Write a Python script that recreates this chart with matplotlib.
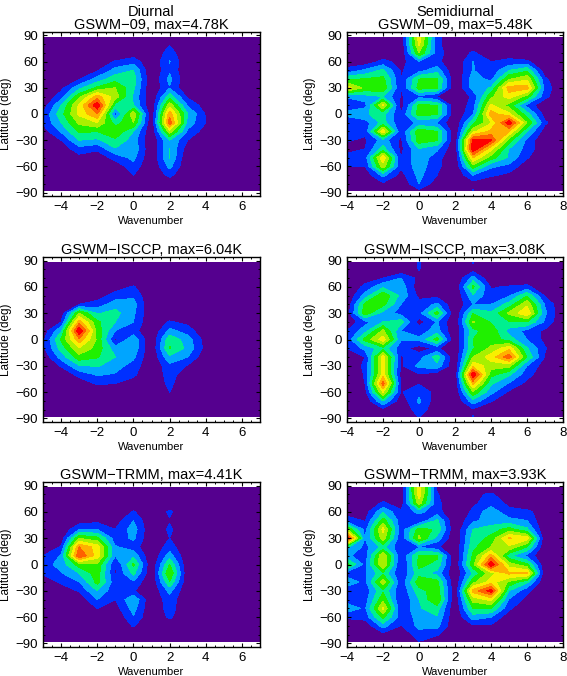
import numpy as np
import matplotlib
matplotlib.use('Agg')
import matplotlib.pyplot as plt
from matplotlib.colors import ListedColormap, BoundaryNorm
from matplotlib.ticker import MultipleLocator

# values are in tenths of each panel's maximum, one list per wavenumber,
# north to south on the latitudes below
lats = [87.5, 80, 70, 60, 50, 40, 30, 20, 10, 0, -10, -20, -30, -40, -50, -60, -70, -80, -87.5]
k_diurnal = [-5, -4, -3, -2, -1, 0, 1, 2, 3, 4, 5, 6, 7]
k_semi = [-4, -3, -2, -1, 0, 1, 2, 3, 4, 5, 6, 7, 8]
zero = [0] * 19

d_09 = [
    [0, 0, 0, 0, 0, 0, 0, 0, 0.4, 1.1, 1.1, 0.5, 0, 0, 0, 0, 0, 0, 0],
    [0, 0, 0, 0, 0, 0.1, 0.7, 1.5, 3.0, 3.6, 3.0, 2.1, 1.0, 0.3, 0, 0, 0, 0, 0],
    [0, 0, 0, 0, 0.2, 0.9, 2.7, 4.7, 6.2, 6.2, 5.2, 4.2, 3.0, 1.6, 0.6, 0, 0, 0, 0],
    [0, 0, 0, 0.3, 0.9, 2.4, 4.2, 7.5, 9.8, 8.0, 6.0, 4.0, 2.8, 1.2, 0.3, 0, 0, 0, 0],
    [0, 0, 0, 1.1, 2.4, 3.6, 5.0, 5.5, 3.6, 1.4, 3.5, 4.8, 3.8, 2.9, 1.4, 0.3, 0, 0, 0],
    [0, 0, 0.3, 1.6, 3.0, 3.5, 3.2, 2.8, 3.0, 5.8, 5.0, 3.0, 2.5, 2.8, 2.3, 1.6, 1.0, 0.2, 0],
    zero,
    [0, 0.9, 1.5, 2.05, 1.8, 2.3, 1.9, 3.6, 5.6, 7.6, 8.6, 5.5, 3.0, 3.0, 3.05, 2.3, 1.3, 0.1, 0],
    [0, 0, 0, 0, 0, 0, 0, 0.8, 1.9, 3.0, 2.6, 1.8, 1.0, 0.4, 0, 0, 0, 0, 0],
    [0, 0, 0, 0, 0, 0, 0, 0, 0.4, 0.9, 1.0, 0.5, 0, 0, 0, 0, 0, 0, 0],
    zero, zero, zero,
]
s_09 = [
    [0, 0, 0, 0.4, 1.3, 3.8, 6.5, 2.1, 1.3, 2.4, 1.0, 2.05, 1.1, 0.7, 1.3, 1.05, 0, 0, 0],
    [0, 0, 0, 0.3, 2.2, 4.1, 4.7, 2.6, 1.6, 2.9, 1.5, 1.3, 0.8, 1.0, 1.5, 1.0, 0.3, 0, 0],
    [0, 0, 0.3, 1.3, 3.2, 4.3, 4.7, 3.0, 6.2, 3.3, 3.4, 6.6, 2.5, 3.4, 6.8, 5.5, 2.3, 0.8, 0],
    [0, 0, 0, 0.6, 0.9, 1.0, 1.0, 0.9, 0.4, 1.1, 1.1, 1.1, 0.8, 0.7, 1.0, 1.2, 0.6, 0.1, 0],
    [6.5, 6.2, 5.0, 1.9, 1.6, 4.0, 4.4, 1.7, 4.2, 4.5, 2.3, 4.6, 4.6, 2.9, 2.7, 2.5, 2.3, 2.0, 0.8],
    [1.3, 1.3, 1.6, 1.3, 2.6, 4.2, 4.1, 1.0, 4.0, 4.1, 1.9, 4.0, 4.1, 2.2, 1.4, 1.3, 1.0, 0.4, 0],
    zero,
    [0, 0, 1.2, 2.05, 2.05, 2.5, 2.4, 1.2, 1.5, 1.9, 3.7, 5.7, 9.3, 9.9, 7.0, 4.5, 2.0, 0.5, 1.05],
    [0, 0, 0, 1.0, 1.3, 1.7, 3.1, 4.7, 6.2, 7.5, 5.9, 7.3, 9.2, 6.3, 4.5, 2.2, 1.2, 0, 0],
    [0, 0, 0.4, 1.3, 3.0, 4.9, 7.5, 6.5, 4.6, 6.2, 9.7, 7.0, 4.5, 3.0, 2.8, 1.7, 0.7, 0, 0],
    [0, 0, 0, 1.2, 3.8, 5.8, 7.4, 4.5, 1.6, 3.4, 5.0, 3.0, 1.7, 1.6, 1.1, 0.3, 0, 0, 0],
    [0, 0, 0, 0, 0.3, 1.2, 1.6, 1.3, 0.2, 0.5, 1.2, 0.4, 0.1, 0.2, 0, 0, 0, 0, 0],
    zero,
]
d_isccp = [
    [0, 0, 0, 0, 0, 0, 0, 0, 0.3, 0.7, 0.7, 0.2, 0, 0, 0, 0, 0, 0, 0],
    [0, 0, 0, 0, 0, 0, 0.3, 1.0, 2.8, 4.1, 3.4, 2.4, 1.1, 0, 0, 0, 0, 0, 0],
    [0, 0, 0, 0, 0.1, 1.0, 5.0, 7.5, 10, 7.7, 5.9, 4.6, 2.9, 1.4, 0.2, 0, 0, 0, 0],
    [0, 0, 0, 0, 0.5, 1.4, 2.9, 4.2, 4.6, 4.8, 4.6, 4.1, 3.1, 2.1, 1.2, 0, 0, 0, 0],
    [0, 0, 0, 0.5, 1.4, 2.6, 3.3, 3.0, 2.0, 0.8, 2.4, 3.0, 2.4, 1.9, 1.0, 0.2, 0, 0, 0],
    [0, 0, 0.2, 1.1, 1.8, 2.4, 2.2, 2.0, 1.4, 2.7, 2.7, 2.2, 1.6, 1.2, 0.6, 0, 0, 0, 0],
    zero,
    [0, 0, 0, 0, 0, 0, 0.2, 1.1, 2.3, 3.7, 4.1, 2.8, 1.7, 1.5, 1.3, 1.0, 0, 0, 0],
    [0, 0, 0, 0, 0, 0, 0, 0.7, 1.5, 2.5, 2.7, 2.0, 0.9, 0.2, 0, 0, 0, 0, 0],
    [0, 0, 0, 0, 0, 0, 0, 0, 0.1, 0.5, 0.6, 0.2, 0, 0, 0, 0, 0, 0, 0],
    zero, zero, zero,
]
s_isccp = [
    [0, 0, 0, 0, 0, 0.2, 0.4, 0.3, 1.0, 1.3, 1.0, 0.9, 0.2, 0, 0, 0, 0, 0, 0],
    [0, 0, 0.4, 1.3, 2.4, 4.3, 4.6, 1.6, 2.6, 4.3, 2.3, 1.0, 1.2, 1.1, 1.0, 0.6, 0.1, 0, 0],
    [0, 0, 1.0, 2.8, 4.8, 4.3, 2.6, 3.0, 5.2, 6.5, 3.6, 6.5, 6.3, 6.5, 8.5, 6.0, 3.0, 0.7, 0],
    [0, 0, 2.0, 2.6, 2.7, 2.0, 1.6, 3.5, 2.0, 2.1, 1.4, 0.9, 0.8, 0.6, 0.8, 0.9, 0.3, 0, 0],
    [1.1, 1.05, 0.7, 0.3, 0.7, 1.4, 1.6, 0.5, 1.5, 2.2, 0.5, 1.5, 2.3, 0.9, 0.9, 1.7, 2.2, 1.6, 1.1],
    [0, 0, 0, 0.2, 0.7, 2.2, 4.4, 2.1, 2.4, 4.4, 1.2, 3.5, 2.7, 0.3, 0.4, 0.6, 0.3, 0.2, 0],
    zero,
    [1.05, 0.5, 2.4, 4.2, 2.8, 2.0, 3.9, 5.1, 3.6, 4.0, 3.9, 5.0, 6.7, 9.9, 7.3, 4.8, 2.6, 0.8, 1.02],
    [0, 0, 0, 0.9, 1.3, 2.0, 3.2, 3.9, 4.7, 4.6, 5.2, 6.5, 5.5, 4.3, 3.2, 2.3, 1.1, 0, 0],
    [0, 0, 0, 1.1, 1.9, 3.4, 5.2, 3.9, 2.6, 3.5, 6.7, 8.6, 5.3, 3.2, 1.9, 0.8, 0, 0, 0],
    [0, 0, 0, 1.3, 3.9, 5.8, 6.8, 4.0, 1.7, 2.0, 3.1, 3.9, 2.0, 1.4, 0.7, 0.2, 0, 0, 0],
    [0, 0, 0, 0, 0.9, 1.9, 2.2, 1.8, 0.8, 0.7, 1.1, 0.9, 0.4, 0.2, 0, 0, 0, 0, 0],
    zero,
]
d_trmm = [
    [0, 0, 0, 0, 0, 0, 0, 0, 1.0, 1.5, 1.2, 0, 0, 0, 0, 0, 0, 0, 0],
    [0, 0, 0, 0, 0, 0, 0.3, 1.1, 2.1, 2.4, 1.9, 1.2, 0.3, 0, 0, 0, 0, 0, 0],
    [0, 0, 0, 0, 0.4, 2.0, 4.9, 8.0, 9.0, 4.5, 3.0, 2.0, 1.1, 0.3, 0, 0, 0, 0, 0],
    [0, 0, 0, 0, 0.7, 2.0, 4.3, 6.5, 6.5, 4.8, 4.5, 4.3, 3.0, 2.0, 1.0, 0, 0, 0, 0],
    [0, 0, 0, 0, 0.5, 1.0, 1.4, 2.1, 2.0, 0.9, 0.9, 1.3, 1.2, 1.0, 0.5, 0, 0, 0, 0],
    [0, 0, 0.3, 1.1, 2.0, 2.5, 2.2, 1.5, 2.7, 4.2, 3.3, 1.8, 1.1, 2.9, 2.4, 1.9, 1.1, 0, 0],
    zero,
    [0, 0, 0.2, 1.2, 0.9, 1.2, 1.0, 1.5, 2.5, 4.0, 5.0, 3.9, 2.3, 1.6, 1.5, 1.2, 0.2, 0, 0],
    zero, zero, zero, zero, zero,
]
s_trmm = [
    [0, 0, 0, 0.4, 1.6, 5.0, 9.7, 3.2, 2.2, 4.3, 1.5, 2.6, 1.3, 1.5, 2.6, 1.2, 0, 0, 0],
    [0, 0, 0, 0.5, 0.9, 1.6, 2.0, 1.7, 1.4, 1.7, 1.8, 1.7, 1.3, 1.5, 1.8, 1.4, 0.2, 0, 0],
    [0, 0, 1.2, 2.8, 4.5, 6.3, 5.5, 3.3, 6.0, 6.0, 3.7, 5.6, 3.8, 4.7, 6.2, 4.3, 2.4, 0.6, 0],
    [0, 0, 0.3, 1.2, 1.4, 1.3, 1.2, 1.1, 1.0, 0.8, 1.0, 1.2, 1.1, 0.9, 1.1, 1.4, 0.9, 0.2, 0],
    [6.6, 6.5, 5.5, 2.3, 1.0, 4.5, 5.2, 1.9, 4.1, 4.3, 3.6, 4.6, 3.6, 3.0, 2.9, 2.3, 2.3, 1.5, 1.0],
    [0.9, 1.1, 1.3, 1.4, 3.2, 3.8, 2.6, 1.2, 4.2, 3.7, 2.6, 4.4, 4.6, 5.0, 3.5, 2.9, 2.3, 1.1, 0.3],
    zero,
    [0, 0.7, 0.8, 1.2, 1.8, 3.0, 3.4, 3.7, 4.2, 4.7, 3.1, 4.7, 7.4, 5.4, 4.0, 2.5, 0.8, 0, 0],
    [0, 1.2, 1.5, 2.7, 2.4, 3.5, 4.3, 5.0, 7.4, 9.8, 5.6, 6.5, 9.5, 6.3, 4.0, 2.0, 0.8, 0, 0],
    [0, 0, 0.8, 1.2, 2.4, 4.4, 7.1, 5.8, 3.3, 5.5, 7.2, 4.8, 3.0, 1.9, 1.2, 0.3, 0, 0, 0],
    [0, 0, 0, 1.3, 2.0, 3.2, 6.5, 4.0, 1.7, 4.2, 7.2, 3.2, 1.3, 0.6, 0.2, 0, 0, 0, 0],
    [0, 0, 0, 0.3, 0, 0, 0, 0, 0, 0, 0, 0, 0, 0, 0, 0, 0, 0, 0],
    zero,
]

titles_left = ['Diurnal\nGSWM\u221209, max=4.78K', 'GSWM\u2212ISCCP, max=6.04K', 'GSWM\u2212TRMM, max=4.41K']
titles_right = ['Semidiurnal\nGSWM\u221209, max=5.48K', 'GSWM\u2212ISCCP, max=3.08K', 'GSWM\u2212TRMM, max=3.93K']

band_colors = ['#55008f', '#0030ff', '#00a5ff', '#00f090', '#20f000',
               '#a8f000', '#f8f000', '#ffb000', '#ff6000', '#ff0000']
levels = [-1, 1, 2, 3, 4, 5, 6, 7, 8, 9, 11]
cmap = ListedColormap(band_colors)
norm = BoundaryNorm(levels, cmap.N)

W, H = 567, 676
plt.rcParams['font.family'] = ['Liberation Sans', 'DejaVu Sans']
fig = plt.figure(figsize=(W / 100, H / 100), dpi=100)


def panel(x0, x1, y0, y1, ks, data, title, xlim, xticks):
    ax = fig.add_axes([x0 / W, 1 - y1 / H, (x1 - x0) / W, (y1 - y0) / H])
    z = np.array(data).T
    ax.contourf(ks, lats, z, levels=levels, cmap=cmap, norm=norm)
    ax.set_xlim(*xlim)
    ax.set_ylim(-94, 94)
    ax.set_xticks(xticks)
    ax.set_yticks([-90, -60, -30, 0, 30, 60, 90])
    ax.set_yticklabels(['\u221290', '\u221260', '\u221230', '0', '30', '60', '90'])
    ax.set_xticklabels([str(t).replace('-', '\u2212') for t in xticks])
    ax.xaxis.set_minor_locator(MultipleLocator(0.5))
    ax.yaxis.set_minor_locator(MultipleLocator(10))
    ax.tick_params(which='major', direction='in', top=True, right=True, length=2.7,
                   width=0.8, labelsize=9.5, pad=3.5)
    ax.tick_params(which='minor', direction='in', top=True, right=True, length=1.5, width=0.7)
    for s in ax.spines.values():
        s.set_linewidth(1.0)
    ax.set_xlabel('Wavenumber', fontsize=8)
    ax.set_ylabel('Latitude (deg)', fontsize=8.5)
    ax.xaxis.set_label_coords(0.5, -0.122)
    ax.yaxis.set_label_coords(-0.143, 0.5)
    ax.set_title(title, fontsize=10.5, pad=2, linespacing=0.95)


rows = [(32, 196), (257, 422), (482, 647)]
left = [d_09, d_isccp, d_trmm]
right = [s_09, s_isccp, s_trmm]
for i, (y0, y1) in enumerate(rows):
    panel(43, 260, y0, y1, k_diurnal, left[i], titles_left[i], (-5, 7), [-4, -2, 0, 2, 4, 6])
    panel(347, 563, y0, y1, k_semi, right[i], titles_right[i], (-4, 8), [-4, -2, 0, 2, 4, 6, 8])

fig.savefig('out.png', dpi=100)
